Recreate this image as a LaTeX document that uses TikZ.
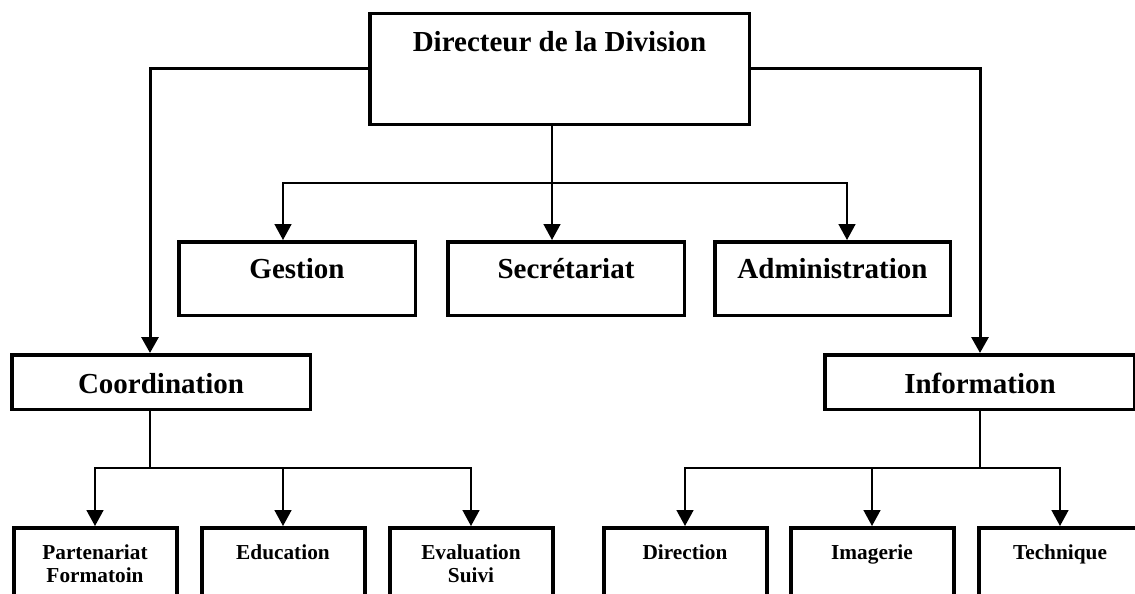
\documentclass[tikz,border=0pt]{standalone}
\usepackage{fontspec}
\setmainfont{Liberation Serif}
\usetikzlibrary{arrows.meta}
\tikzset{
  box/.style={draw=black, line width=3.5pt, rectangle, inner xsep=2pt, inner ysep=0pt,
    minimum height=0pt, font=\bfseries\fontsize{29}{34}\selectfont},
  subbox/.style={draw=black, line width=4pt, rectangle, inner xsep=2pt, inner ysep=0pt,
    minimum width=163pt, text height=31pt, text depth=80pt, anchor=north,
    font=\bfseries\fontsize{21.3}{23}\selectfont},
  thickarrow/.style={line width=3pt, -{Triangle[width=17pt,length=16pt]}},
  thinarrow/.style={line width=1.6pt, -{Triangle[width=17pt,length=16pt]}},
  thinline/.style={line width=1.6pt},
}
\begin{document}
\begin{tikzpicture}[x=1pt,y=-1pt]
\useasboundingbox (0,0) rectangle (1135,594);
\clip (0,0) rectangle (1135,594);
% top
\node[box, minimum width=379.5pt, text height=38.25pt, text depth=72.25pt] (dir) at (559.5,69) {Directeur de la Division};
% second row
\node[box, minimum width=236.5pt, text height=36.25pt, text depth=37.25pt] (gest) at (297,278.5) {Gestion};
\node[box, minimum width=236.5pt, text height=36.25pt, text depth=37.25pt] (sec) at (566,278.5) {Secrétariat};
\node[box, minimum width=235.5pt, text height=36.25pt, text depth=37.25pt] (adm) at (832.5,278.5) {Administration};
% third row
\node[box, minimum width=298.5pt, text height=38.25pt, text depth=16.25pt] (coord) at (161,382) {Coordination};
\node[box, minimum width=310pt, text height=38.25pt, text depth=16.25pt] (info) at (980,382) {Information};
% bottom row
\node[subbox] (part) at (95,526) {\begin{tabular}[t]{@{}c@{}}Partenariat\\Formatoin\end{tabular}};
\node[subbox] (edu) at (283,526) {Education};
\node[subbox] (eval) at (471,526) {\begin{tabular}[t]{@{}c@{}}Evaluation\\Suivi\end{tabular}};
\node[subbox] (direc) at (685,526) {Direction};
\node[subbox] (imag) at (872,526) {Imagerie};
\node[subbox] (tech) at (1060,526) {Technique};
% helper coordinates
\coordinate (xl) at (150,0);
\coordinate (xg) at (283,0);
\coordinate (xs) at (552,0);
\coordinate (xa) at (847,0);
\coordinate (ym) at (0,183);
\coordinate (yb) at (0,468);
% connectors
\draw[thickarrow] (dir.west) -| (coord.north -| xl);
\draw[thickarrow] (dir.east) -| (info.north);
\draw[thinarrow] (dir.south -| xs) -- (sec.north -| xs);
\draw[thinarrow] (xs |- ym) -| (gest.north -| xg);
\draw[thinarrow] (xs |- ym) -| (adm.north -| xa);
\draw[thinline] (coord.south -| xl) -- (xl |- yb);
\draw[thinarrow] (xl |- yb) -| (part.north);
\draw[thinarrow] (xl |- yb) -| (eval.north);
\draw[thinarrow] (edu.north |- yb) -- (edu.north);
\draw[thinline] (info.south) -- (info.south |- yb);
\draw[thinarrow] (info.south |- yb) -| (direc.north);
\draw[thinarrow] (info.south |- yb) -| (tech.north);
\draw[thinarrow] (imag.north |- yb) -- (imag.north);
\end{tikzpicture}
\end{document}
